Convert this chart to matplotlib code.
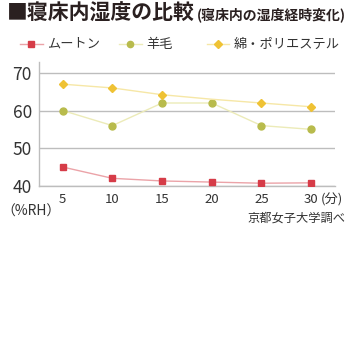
import matplotlib
matplotlib.use("Agg")
import matplotlib.pyplot as plt

plt.rcParams["font.family"] = ["Noto Sans CJK JP", "DejaVu Sans"]

# minutes after getting into bed
minutes = [5, 10, 15, 20, 25, 30]
x_labels = ["5", "10", "15", "20", "25", "30"]

# humidity inside the bed (%RH)
mutton = [45, 42, 41.3, 41, 40.7, 40.8]
wool = [60, 56, 62, 62, 56, 55]
cotton_poly = [67, 66, 64.2, 63, 62, 61]

series_names = ["ムートン", "羊毛", "綿・ポリエステル"]

fig = plt.figure(figsize=(3.5, 3.5), dpi=100)
ax = fig.add_axes([0.111, 0.469, 0.846, 0.354])

ax.plot(minutes, mutton, color="#eba3a8", lw=1.0, marker="s", ms=4.5,
        mfc="#d63c48", mec="#d63c48", zorder=3)
ax.plot(minutes, wool, color="#ecebb8", lw=1.0, marker="o", ms=5,
        mfc="#b8bb4c", mec="#b8bb4c", zorder=3)
ax.plot(minutes, cotton_poly, color="#f6e7a6", lw=1.0, marker="D", ms=4.5,
        mfc="#efc234", mec="#efc234", markevery=[0, 1, 2, 4, 5], zorder=3)

ax.set_xlim(2.6, 32.4)
ax.set_ylim(40, 72.9)
ax.set_yticks([40, 50, 60, 70])
ax.set_xticks(minutes)
ax.set_xticklabels(x_labels)
ax.tick_params(length=0)
ax.tick_params(axis="y", labelsize=12.5, pad=5, colors="#333333")
ax.tick_params(axis="x", labelsize=9.5, pad=5, colors="#333333")
ax.yaxis.grid(True, color="#bdbdbd", lw=1.0)
for side in ["top", "right"]:
    ax.spines[side].set_visible(False)
for side in ["left", "bottom"]:
    ax.spines[side].set_color("#bdbdbd")
    ax.spines[side].set_linewidth(1.0)

# title
fig.text(0.02, 0.962, "■寝床内湿度の比較", fontsize=15, fontweight="bold",
         color="#2a2020", va="center", ha="left")
fig.text(0.562, 0.958, "(寝床内の湿度経時変化)", fontsize=10, fontweight="bold",
         color="#2a2020", va="center", ha="left")

# legend row
legend_items = [
    (0.057, "#eba3a8", "s", "#d63c48", 4),
    (0.34, "#ecebb8", "o", "#b8bb4c", 4.5),
    (0.59, "#f6e7a6", "D", "#efc234", 4),
]
for (x0, lc, mk, mc, ms), name in zip(legend_items, series_names):
    fig.lines.append(plt.Line2D([x0, x0 + 0.065], [0.874, 0.874], color=lc, lw=1.0,
                                transform=fig.transFigure))
    fig.lines.append(plt.Line2D([x0 + 0.0325], [0.874], marker=mk, ms=ms, mfc=mc, mec=mc,
                                transform=fig.transFigure))
    fig.text(x0 + 0.078, 0.874, name, fontsize=9.5, color="#333333",
             va="center", ha="left")

# unit labels and source
fig.text(0.005, 0.394, "（%RH）", fontsize=10, color="#333333", va="center", ha="left")
fig.text(0.916, 0.428, "(分)", fontsize=9.5, color="#333333", va="center", ha="left")
fig.text(0.988, 0.376, "京都女子大学調べ", fontsize=8.8, color="#333333",
         va="center", ha="right")

fig.savefig("out.png", dpi=100)
